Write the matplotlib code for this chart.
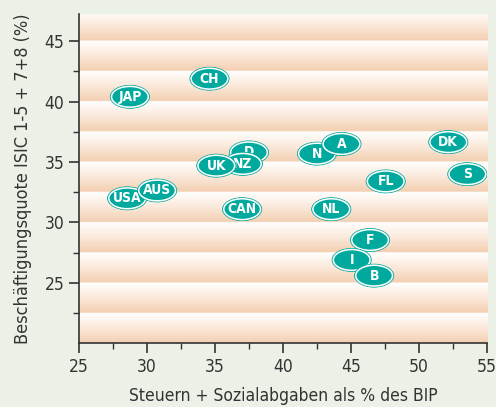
import matplotlib.pyplot as plt
import numpy as np
from matplotlib.patches import Ellipse
from matplotlib.colors import LinearSegmentedColormap

plt.rcParams['font.family'] = ['DejaVu Sans']
plt.rcParams['font.stretch'] = 'condensed'

# Steuern + Sozialabgaben (% BIP) und Beschaeftigungsquote (%)
countries = ['JAP', 'CH', 'D', 'NZ', 'UK', 'USA', 'AUS', 'CAN', 'N', 'A',
             'DK', 'S', 'FL', 'NL', 'F', 'I', 'B']
tax = [28.75, 34.6, 37.5, 37.05, 35.1, 28.55, 30.75, 37.0, 42.5, 44.3,
       52.15, 53.55, 47.55, 43.55, 46.4, 45.05, 46.7]
employment = [40.4, 41.9, 35.8, 34.85, 34.7, 32.0, 32.65, 31.1, 35.7, 36.5,
              36.65, 34.0, 33.4, 31.1, 28.55, 26.9, 25.6]

teal = '#00a99d'
bg = '#ebf1e7'

fig = plt.figure(figsize=(4.96, 4.07), dpi=100, facecolor=bg)
ax = fig.add_axes([0.159, 0.1565, 0.823, 0.809])

xmin, xmax, ymin, ymax = 25, 55, 20, 47.25

# striped background: each 2.5 band goes white (top) -> peach (bottom)
yy = np.linspace(ymin, ymax, 1200)
frac = ((yy - ymin) % 2.5) / 2.5
cmap = LinearSegmentedColormap.from_list('band', ['#f3cfb1', '#fbe9db', '#ffffff'])
ax.imshow(frac[::-1, None], extent=[xmin, xmax, ymin, ymax], aspect='auto',
          cmap=cmap, vmin=0, vmax=1, zorder=0, interpolation='bilinear')

w, h = 2.7, 1.72
for i, (name, x, y) in enumerate(zip(countries, tax, employment)):
    z = 3 + i
    ax.add_patch(Ellipse((x, y), w + 0.18, h + 0.18, fc=teal, ec=teal, lw=0.6, zorder=z))
    ax.add_patch(Ellipse((x, y), w, h, fc=teal, ec='white', lw=1.1, zorder=z))
    ax.text(x, y, name, color='white', fontsize=10, fontweight='bold',
            ha='center', va='center', zorder=z)

ax.set_xlim(xmin, xmax)
ax.set_ylim(ymin, ymax)
ax.set_xticks([25, 30, 35, 40, 45, 50, 55])
ax.set_yticks([25, 30, 35, 40, 45])
ax.set_xticks(np.arange(27.5, 55, 5), minor=True)
ax.set_yticks(np.arange(22.5, 47, 5), minor=True)

for s in ['top', 'right']:
    ax.spines[s].set_visible(False)
for s in ['left', 'bottom']:
    ax.spines[s].set_color('#333333')
    ax.spines[s].set_linewidth(1.2)

ax.tick_params(which='major', length=7, width=1.2, color='#333333',
               labelsize=12.5, labelcolor='#333333')
ax.tick_params(which='minor', length=4, width=1.0, color='#333333')

ax.set_xlabel('Steuern + Sozialabgaben als % des BIP', fontsize=12.5,
              color='#333333', labelpad=8)
ax.set_ylabel('Beschäftigungsquote ISIC 1-5 + 7+8 (%)', fontsize=13,
              color='#333333', labelpad=9)

fig.savefig('out.png', dpi=100, facecolor=bg)
